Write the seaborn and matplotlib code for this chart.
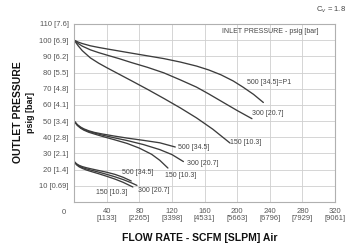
import pandas as pd
import matplotlib.pyplot as plt
import seaborn as sns

# flow rate (SCFM) and outlet pressure (psig)
# upper family, set at 100 psig
flow_100_500 = [0, 5, 10, 20, 30, 40, 55, 70, 90, 110, 130, 150, 165, 180, 195, 207, 220, 232]
out_100_500 = [100, 98.8, 97.9, 96.5, 95.5, 94.6, 93.3, 92, 90.3, 88.6, 86.5, 84, 81.6, 78.6,
               74.8, 71, 66.5, 61.5]
flow_100_300 = [0, 5, 10, 20, 30, 40, 55, 70, 90, 110, 130, 150, 165, 183, 200, 218]
out_100_300 = [100, 97.9, 96.3, 94, 92.3, 90.8, 88.6, 86.2, 83.2, 79.8, 75.5, 71, 66.8, 61.5,
               56.5, 51.5]
flow_100_150 = [0, 5, 10, 20, 30, 40, 55, 70, 90, 110, 130, 150, 170, 191]
out_100_150 = [100, 96.5, 93.5, 89, 85.8, 83, 79, 75, 69.6, 64, 58.2, 52, 45, 36.5]

# middle family, set at 50 psig
flow_50_500 = [0, 4, 8, 12, 18, 25, 35, 50, 65, 85, 105, 124]
out_50_500 = [50, 47.8, 46.3, 45.2, 44, 43, 42, 40.7, 39.5, 38.1, 36.6, 34]
flow_50_300 = [0, 4, 8, 12, 18, 25, 35, 50, 65, 85, 105, 120, 134]
out_50_300 = [50, 47.5, 45.9, 44.8, 43.6, 42.6, 41.3, 39.6, 38, 35.5, 32.4, 29.3, 25]
flow_50_150 = [0, 4, 8, 12, 18, 25, 35, 50, 65, 80, 95, 105, 115]
out_50_150 = [50, 47.3, 45.6, 44.4, 43.1, 42, 40.5, 38.4, 36.2, 33.3, 29.5, 25.8, 21]

# lower family, set at 25 psig
flow_25_500 = [0, 3, 6, 10, 15, 20, 30, 40, 50, 60, 70]
out_25_500 = [25, 23.6, 22.7, 21.9, 21.2, 20.6, 19.5, 18.4, 17.1, 15.3, 13]
flow_25_300 = [0, 3, 6, 10, 15, 20, 30, 40, 50, 60, 70, 77]
out_25_300 = [25, 23.3, 22.2, 21.3, 20.5, 19.8, 18.5, 17.1, 15.6, 13.9, 11.9, 10.3]
flow_25_150 = [0, 3, 6, 10, 15, 20, 30, 40, 50, 60, 72]
out_25_150 = [25, 23, 21.8, 20.8, 19.8, 19, 17.5, 15.9, 14.2, 12.2, 9.3]

# curve labels: text, x, y
curve_labels = [
    ("500 [34.5]=P1", 212, 74), ("300 [20.7]", 218, 55), ("150 [10.3]", 191, 36.5),
    ("500 [34.5]", 127.5, 33.4), ("300 [20.7]", 138.5, 24), ("150 [10.3]", 111.5, 16.7),
    ("500 [34.5]", 59, 18), ("300 [20.7]", 78.5, 7.4), ("150 [10.3]", 27, 6.2),
]

y_ticks = [10, 20, 30, 40, 50, 60, 70, 80, 90, 100, 110]
y_tick_labels = ["10 [0.69]", "20 [1.4]", "30 [2.1]", "40 [2.8]", "50 [3.4]", "60 [4.1]",
                 "70 [4.8]", "80 [5.5]", "90 [6.2]", "100 [6.9]", "110 [7.6]"]
x_ticks = [40, 80, 120, 160, 200, 240, 280, 320]
x_tick_labels = ["40\n[1133]", "80\n[2265]", "120\n[3398]", "160\n[4531]", "200\n[5663]",
                 "240\n[6796]", "280\n[7929]", "320\n[9061]"]

sns.set_style("whitegrid")
plt.rcParams['font.family'] = ['Liberation Sans', 'DejaVu Sans']

fig = plt.figure(figsize=(3.48, 2.47), dpi=100)
ax = fig.add_axes([0.213, 0.182, 0.750, 0.721])

line_col = "#3c3c3c"
series = [
    (flow_100_500, out_100_500), (flow_100_300, out_100_300), (flow_100_150, out_100_150),
    (flow_50_500, out_50_500), (flow_50_300, out_50_300), (flow_50_150, out_50_150),
    (flow_25_500, out_25_500), (flow_25_300, out_25_300), (flow_25_150, out_25_150),
]
for fx, fy in series:
    df = pd.DataFrame({"flow": fx, "outlet": fy})
    sns.lineplot(data=df, x="flow", y="outlet", color=line_col, linewidth=0.95, ax=ax)

for txt, lx, ly in curve_labels:
    ax.text(lx, ly, txt, fontsize=5, color="#444444", ha="left", va="center")

ax.set_xlim(0, 320)
ax.set_ylim(0, 110)
ax.set_xticks(x_ticks)
ax.set_xticklabels(x_tick_labels, fontsize=5.5, color="#555555", linespacing=1.1)
ax.set_yticks(y_ticks)
ax.set_yticklabels(y_tick_labels, fontsize=5.5, color="#555555")
ax.tick_params(length=0, pad=4)
ax.grid(True, color="#cfcfcf", linewidth=0.6)
for sp in ax.spines.values():
    sp.set_color("#b0b0b0")
    sp.set_linewidth(0.8)

ax.set_xlabel("")
ax.set_ylabel("")
ax.text(-0.04, -0.06, "0", transform=ax.transAxes, fontsize=5.5, color="#555555",
        ha="center", va="center")
ax.text(0.75, 0.955, "INLET PRESSURE - psig [bar]", transform=ax.transAxes, fontsize=5,
        color="#444444", ha="center", va="center")
fig.text(0.95, 0.96, "C$_v$ = 1.8", fontsize=5.5, color="#444444", ha="center", va="center")

fig.text(0.575, 0.035, "FLOW RATE - SCFM [SLPM] Air", fontsize=7.5, fontweight="bold",
         color="#111111", ha="center", va="center")
fig.text(0.052, 0.545, "OUTLET PRESSURE", fontsize=7.5, fontweight="bold", color="#111111",
         rotation=90, ha="center", va="center")
fig.text(0.088, 0.545, "psig [bar]", fontsize=6.5, fontweight="bold", color="#111111",
         rotation=90, ha="center", va="center")

fig.savefig("out.png", dpi=100)
